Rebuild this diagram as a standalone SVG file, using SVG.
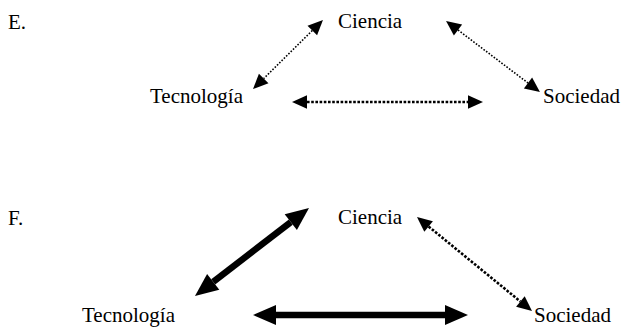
<svg xmlns="http://www.w3.org/2000/svg" width="622" height="327" viewBox="0 0 622 327">
  <style>
    text { font-family: "Liberation Serif", "Times New Roman", serif; font-size: 21px; fill: #000; }
    .thin { stroke: #000; stroke-width: 1.6; stroke-dasharray: 1.6 1.6; fill: none; }
    .dotted { stroke: #000; stroke-width: 2.6; stroke-dasharray: 2.6 1.6; fill: none; }
    .thick { stroke: #000; stroke-width: 6.5; fill: none; }
  </style>
  <defs>
    <marker id="head" markerUnits="userSpaceOnUse" markerWidth="1" markerHeight="1" refX="0" refY="0" orient="auto-start-reverse" overflow="visible">
      <path d="M0,-6.8 L15,0 L0,6.8 Z" fill="#000"/>
    </marker>
    <marker id="bighead" markerUnits="userSpaceOnUse" markerWidth="1" markerHeight="1" refX="0" refY="0" orient="auto-start-reverse" overflow="visible">
      <path d="M0,-10 L23,0 L0,10 Z" fill="#000"/>
    </marker>
  </defs>

  <g id="label-E"><text x="8" y="29">E.</text></g>
  <g id="E-ciencia"><text x="338" y="28">Ciencia</text></g>
  <g id="E-tecnologia"><text x="150" y="103">Tecnología</text></g>
  <g id="E-sociedad"><text x="543" y="103">Sociedad</text></g>

  <g id="label-F"><text x="8" y="225">F.</text></g>
  <g id="F-ciencia"><text x="338" y="224">Ciencia</text></g>
  <g id="F-tecnologia"><text x="82" y="322">Tecnología</text></g>
  <g id="F-sociedad"><text x="534" y="322">Sociedad</text></g>

  <g id="connectors">
    <path class="thin" d="M312.3,30.5 L263.7,78.5" marker-start="url(#head)" marker-end="url(#head)"/>
    <path class="thin" d="M458,30 L528,83" marker-start="url(#head)" marker-end="url(#head)"/>
    <path class="dotted" d="M307,102 L468,102" marker-start="url(#head)" marker-end="url(#head)"/>

    <path class="thick" d="M290.8,222.1 L213.2,281.9" marker-start="url(#bighead)" marker-end="url(#bighead)"/>
    <path class="thick" d="M276,315 L445,315" marker-start="url(#bighead)" marker-end="url(#bighead)"/>
    <path class="dotted" d="M428.6,226.5 L520.4,301.5" marker-start="url(#head)" marker-end="url(#head)"/>
  </g>
</svg>
